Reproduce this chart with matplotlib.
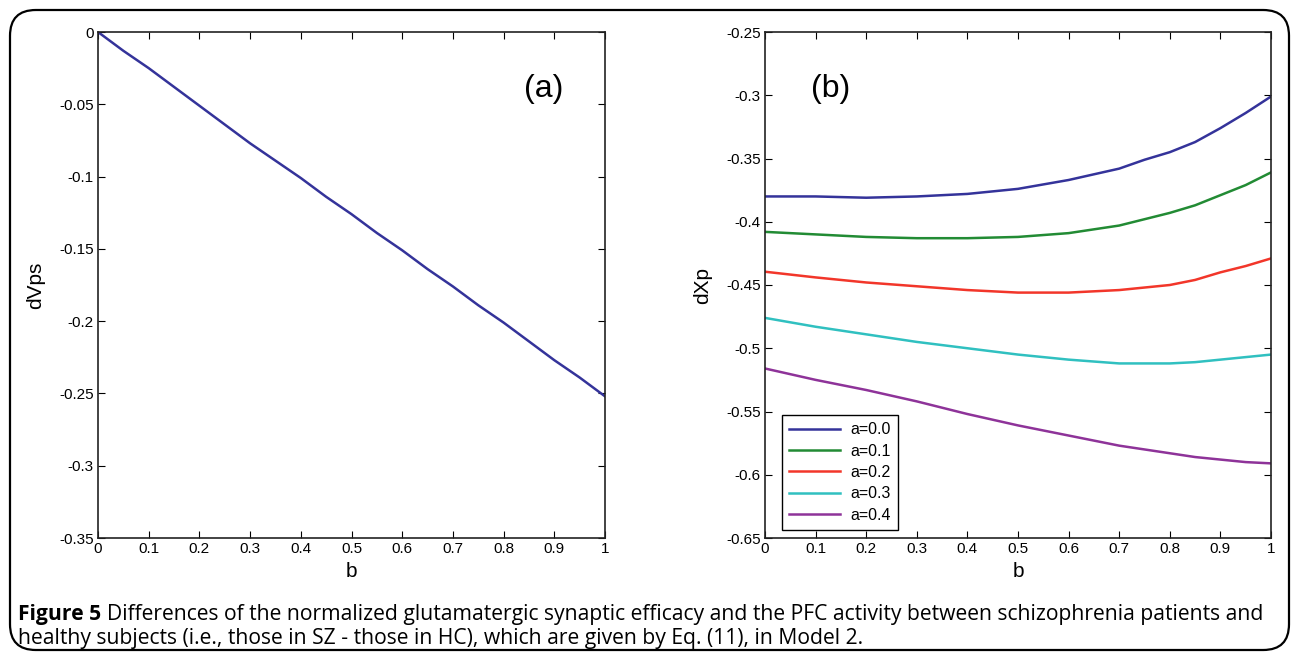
import matplotlib
matplotlib.use("Agg")
import matplotlib.pyplot as plt
from matplotlib.patches import FancyBboxPatch

plt.rcParams["font.family"] = ["Liberation Sans", "DejaVu Sans"]

# ---- panel (a): dVps vs b ----
b_a = [0.0, 0.05, 0.1, 0.15, 0.2, 0.25, 0.3, 0.35, 0.4, 0.45, 0.5,
       0.55, 0.6, 0.65, 0.7, 0.75, 0.8, 0.85, 0.9, 0.95, 1.0]
dvps = [0.0, -0.013, -0.025, -0.038, -0.051, -0.064, -0.077, -0.089, -0.101, -0.114, -0.126,
        -0.139, -0.151, -0.164, -0.176, -0.189, -0.201, -0.214, -0.227, -0.239, -0.252]

# ---- panel (b): dXp vs b for several a ----
b_b = [0.0, 0.1, 0.2, 0.3, 0.4, 0.5, 0.6, 0.7, 0.75, 0.8, 0.85, 0.9, 0.95, 1.0]
dxp_a00 = [-0.380, -0.380, -0.381, -0.380, -0.378, -0.374, -0.367, -0.358, -0.351, -0.345, -0.337, -0.326, -0.314, -0.301]
dxp_a01 = [-0.408, -0.410, -0.412, -0.413, -0.413, -0.412, -0.409, -0.403, -0.398, -0.393, -0.387, -0.379, -0.371, -0.361]
dxp_a02 = [-0.4395, -0.444, -0.448, -0.451, -0.454, -0.456, -0.456, -0.454, -0.452, -0.450, -0.446, -0.440, -0.435, -0.429]
dxp_a03 = [-0.476, -0.483, -0.489, -0.495, -0.500, -0.505, -0.509, -0.512, -0.512, -0.512, -0.511, -0.509, -0.507, -0.505]
dxp_a04 = [-0.516, -0.525, -0.533, -0.542, -0.552, -0.561, -0.569, -0.577, -0.580, -0.583, -0.586, -0.588, -0.590, -0.591]
series_labels = ["a=0.0", "a=0.1", "a=0.2", "a=0.3", "a=0.4"]
series_colors = ["#34339A", "#228B34", "#F2362A", "#30C0C0", "#8E3399"]

caption_bold = "Figure 5"
caption_line1 = "Differences of the normalized glutamatergic synaptic efficacy and the PFC activity between schizophrenia patients and"
caption_line2 = "healthy subjects (i.e., those in SZ - those in HC), which are given by Eq. (11), in Model 2."

xticks = [0, 0.1, 0.2, 0.3, 0.4, 0.5, 0.6, 0.7, 0.8, 0.9, 1]
xticklabels = ["0", "0.1", "0.2", "0.3", "0.4", "0.5", "0.6", "0.7", "0.8", "0.9", "1"]

fig = plt.figure(figsize=(12.93, 6.58), dpi=100)

# rounded frame around the whole figure
frame = FancyBboxPatch((10 / 1293, 8 / 658), 1279 / 1293, 640 / 658,
                       boxstyle="round,pad=0,rounding_size=0.02",
                       transform=fig.transFigure, fill=False, ec="black", lw=1.6,
                       mutation_aspect=1293 / 658)
fig.patches.append(frame)

ax1 = fig.add_axes([98 / 1293, 1 - 538 / 658, 507 / 1293, 506 / 658])
ax2 = fig.add_axes([765 / 1293, 1 - 538 / 658, 506 / 1293, 506 / 658])


def style(ax):
    ax.set_xlim(0, 1)
    ax.set_xticks(xticks)
    ax.set_xticklabels(xticklabels)
    ax.tick_params(direction="in", top=True, right=True, labelsize=11,
                   length=5, width=0.8, pad=3)
    for s in ax.spines.values():
        s.set_linewidth(1.2)
        s.set_color("#222222")
    ax.set_xlabel("b", fontsize=15, labelpad=4)


ax1.plot(b_a, dvps, color=series_colors[0], lw=1.8)
style(ax1)
ax1.set_ylim(-0.35, 0)
ax1.set_yticks([0, -0.05, -0.1, -0.15, -0.2, -0.25, -0.3, -0.35])
ax1.set_yticklabels(["0", "-0.05", "-0.1", "-0.15", "-0.2", "-0.25", "-0.3", "-0.35"])
ax1.set_ylabel("dVps", fontsize=15, labelpad=10)
ax1.text(0.88, 0.888, "(a)", transform=ax1.transAxes, fontsize=23, ha="center", va="center")

for ys, lab, c in zip([dxp_a00, dxp_a01, dxp_a02, dxp_a03, dxp_a04], series_labels, series_colors):
    ax2.plot(b_b, ys, color=c, lw=1.8, label=lab)
style(ax2)
ax2.set_ylim(-0.65, -0.25)
ax2.set_yticks([-0.25, -0.3, -0.35, -0.4, -0.45, -0.5, -0.55, -0.6, -0.65])
ax2.set_yticklabels(["-0.25", "-0.3", "-0.35", "-0.4", "-0.45", "-0.5", "-0.55", "-0.6", "-0.65"])
ax2.set_ylabel("dXp", fontsize=15, labelpad=10)
ax2.text(0.13, 0.888, "(b)", transform=ax2.transAxes, fontsize=23, ha="center", va="center")
leg = ax2.legend(loc="lower left", bbox_to_anchor=(0.018, 0.0), fontsize=11.5, fancybox=False,
                 edgecolor="black", framealpha=1, handlelength=3.2, labelspacing=0.4,
                 borderpad=0.45, handletextpad=0.6)
leg.get_frame().set_linewidth(1.0)

cap_font = ["Open Sans", "DejaVu Sans"]
t1 = fig.text(18 / 1293, 1 - 620 / 658, caption_bold, fontsize=15.2, fontweight="bold",
              family=cap_font, va="baseline")
plt.annotate(caption_line1, xy=(1, 0), xycoords=t1, xytext=(4, 0), textcoords="offset points",
             fontsize=15.2, family=cap_font, va="bottom", annotation_clip=False)
fig.text(18 / 1293, 1 - 644 / 658, caption_line2, fontsize=15.2,
         family=cap_font, va="baseline")

fig.savefig("out.png", dpi=100)
